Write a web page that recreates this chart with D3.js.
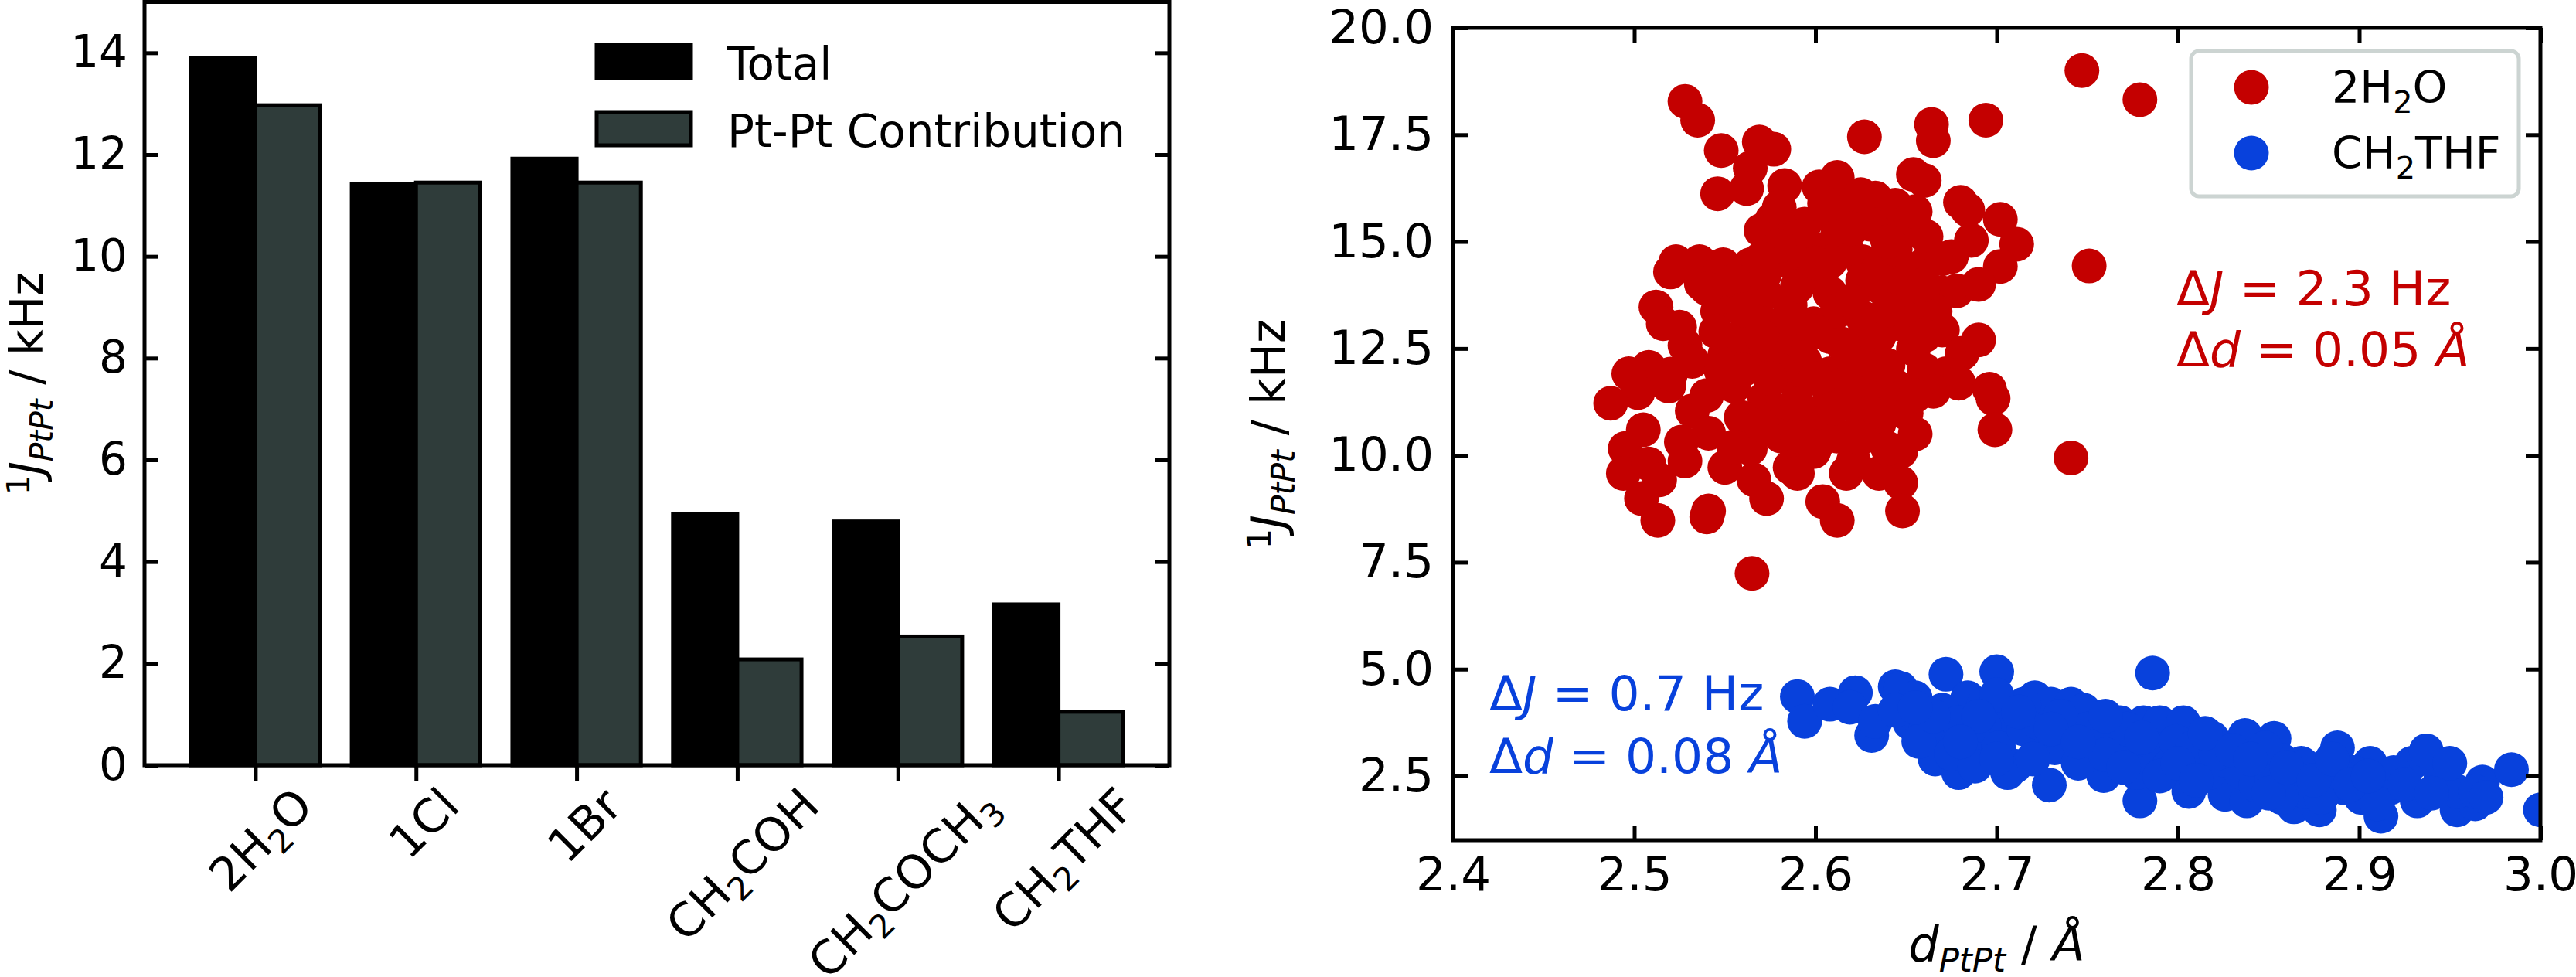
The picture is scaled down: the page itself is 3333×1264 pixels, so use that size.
<!DOCTYPE html>
<html>
<head>
<meta charset="utf-8">
<script src="https://cdn.jsdelivr.net/npm/d3@7"></script>
<style>
  body { margin: 0; background: #fff; }
  text { font-family: "DejaVu Sans", sans-serif; fill: #000; }
</style>
</head>
<body>
<svg id="fig" width="3333" height="1264"></svg>
<script>
// ---- left panel data (kHz) ----
var categories = ['2H2O', '1Cl', '1Br', 'CH2COH', 'CH2COCH3', 'CH2THF'];
var totalVals = [13.9, 11.43, 11.92, 4.94, 4.79, 3.16];
var ptptVals = [12.97, 11.45, 11.45, 2.08, 2.53, 1.05];
var leftTicks = [0, 2, 4, 6, 8, 10, 12, 14];

// ---- right panel data (d / A, J / kHz) ----
var waterD = [2.747,2.779,2.528,2.535,2.548,2.569,2.577,2.627,2.664,2.665,2.694,2.564,2.583,2.546,2.562,2.602,2.612,2.654,2.660,2.633,
  2.644,2.680,2.684,2.702,2.711,2.702,2.751,2.686,2.675,2.576,2.570,2.594,2.608,2.617,2.649,2.639,2.660,2.523,2.520,2.536,
  2.537,2.549,2.564,2.586,2.599,2.512,2.516,2.546,2.555,2.572,2.586,2.608,2.635,2.648,2.670,2.678,2.661,2.670,2.681,2.654,
  2.646,2.528,2.532,2.550,2.566,2.590,2.608,2.626,2.635,2.608,2.590,2.572,2.548,2.519,2.508,2.497,2.502,2.487,2.672,2.679,
  2.696,2.698,2.699,2.650,2.635,2.626,2.599,2.581,2.559,2.532,2.541,2.526,2.528,2.550,2.564,2.581,2.586,2.599,2.590,2.566,
  2.573,2.495,2.494,2.508,2.514,2.504,2.513,2.541,2.540,2.604,2.612,2.617,2.621,2.635,2.647,2.647,2.648,2.565,2.741,2.626,
  2.617,2.599,2.635,2.612,2.599,2.626,2.572,2.559,2.635,2.617,2.644,2.555,2.594,2.577,2.626,2.590,2.652,2.661,2.630,2.612,
  2.590,2.644,2.572,2.555,2.635,2.608,2.590,2.612,2.640,2.666,2.621,2.590,2.608,
  2.580,2.600,2.620,2.640,2.660,2.650,2.630,2.615,2.600,2.585,2.570,2.560,2.545,2.580,2.600,2.620,2.640,2.660,2.665,2.655,
  2.630,2.610,2.590,2.570,2.600,2.625,2.655,2.660,2.690,2.690,2.670,2.655,2.625,2.605,2.580,2.570,2.540,2.525,2.540,2.520,
  2.505,2.555,2.620,2.640,2.575,2.560];
var waterJ = [19.0,18.32,18.28,17.84,17.13,17.33,17.16,17.45,17.74,17.36,17.84,16.72,16.31,16.12,16.24,16.28,16.50,16.57,16.43,16.02,
  15.85,15.92,15.74,15.52,14.94,14.42,14.43,15.03,14.65,15.51,15.26,15.41,15.63,15.85,15.41,15.12,14.46,14.53,14.29,14.53,
  14.02,14.46,14.46,14.53,14.24,13.47,13.08,13.37,13.66,13.80,13.51,13.80,13.95,13.66,13.80,13.85,13.37,12.93,12.39,12.49,
  13.08,12.57,12.20,12.35,12.20,12.49,12.78,12.49,11.91,11.91,11.62,11.33,11.98,11.62,12.06,11.91,11.47,11.22,11.91,11.69,
  11.55,11.33,10.60,10.99,10.74,10.89,10.89,11.04,10.89,11.04,10.52,10.31,9.87,9.72,10.16,10.45,9.72,10.09,9.58,9.43,
  8.99,10.16,9.58,9.80,9.43,8.99,8.48,8.70,8.56,8.92,8.48,9.58,9.87,9.58,9.36,10.09,8.70,7.24,9.94,14.53,
  14.82,14.82,14.39,13.37,13.08,13.22,13.08,12.78,12.78,11.76,11.62,11.62,12.20,12.49,14.09,13.95,14.24,15.12,15.41,15.12,
  15.12,14.82,14.24,14.09,11.33,11.33,10.45,10.45,10.16,13.37,12.20,13.08,14.53,
  14.90,14.50,15.30,15.00,14.00,13.20,12.90,12.60,12.90,13.20,12.80,13.40,12.90,12.00,11.80,11.50,12.10,12.00,11.50,11.40,
  11.00,11.10,11.20,10.70,10.20,10.40,10.50,12.80,12.70,14.00,14.60,15.70,16.10,15.90,15.80,14.60,13.90,13.00,11.40,11.90,
  10.60,10.20,13.60,13.40,11.80,12.00];

var thfD = [2.590,2.594,2.608,2.622,2.619,2.631,2.633,2.644,2.647,2.655,2.652,2.672,2.700,2.786,2.666,2.679,2.675,2.684,2.693,2.688,
  2.697,2.706,2.710,2.721,2.730,2.741,2.748,2.729,2.723,2.736,2.750,2.759,2.768,2.772,2.779,2.781,2.790,2.795,2.803,2.806,
  2.812,2.819,2.826,2.837,2.838,2.846,2.853,2.857,2.864,2.868,2.878,2.881,2.888,2.892,2.906,2.912,2.917,2.929,2.932,2.937,
  2.945,2.954,2.964,2.968,2.984,3.000,2.661,2.670,2.679,2.693,2.701,2.706,2.715,2.723,2.732,2.741,2.754,2.764,2.772,2.786,
  2.795,2.799,2.808,2.817,2.826,2.835,2.843,2.852,2.861,2.870,2.879,2.897,2.901,2.919,2.954,2.964,2.675,2.688,2.657,2.644,
  2.715,2.750,2.777,2.821,2.848,2.857,2.910,2.870,2.888,
  2.700,2.712,2.690,2.680,2.700,2.720,2.735,2.745,2.760,2.770,2.780,2.790,2.800,2.810,2.815,2.830,2.840,2.850,2.860,2.875,
  2.885,2.895,2.905,2.925,2.940,2.950,2.970,2.665,2.655,2.730,2.760,2.745];
var thfJ = [4.36,3.78,4.18,4.45,4.11,3.45,3.78,4.59,4.55,4.33,3.75,4.88,4.94,4.91,2.90,2.58,3.45,4.33,4.18,3.16,
  3.45,3.89,2.73,4.33,4.18,4.18,4.04,2.29,3.16,3.45,3.02,2.51,3.75,3.16,1.92,3.75,3.75,3.02,3.75,2.14,
  2.87,3.38,2.07,3.45,1.92,2.73,3.38,2.87,1.78,2.80,1.71,2.43,3.16,2.22,2.80,1.56,2.22,2.80,1.92,3.09,
  2.43,1.71,1.85,2.36,2.65,1.71,3.60,4.04,3.75,3.68,3.16,2.58,3.60,3.75,3.16,3.60,3.45,3.31,3.60,3.16,
  2.73,3.31,3.16,2.58,2.87,2.58,2.29,2.43,2.43,2.14,2.00,2.58,2.00,2.58,2.14,2.14,3.02,2.73,3.31,4.04,
  4.18,3.60,2.58,3.02,3.16,2.00,1.85,2.73,2.58,
  4.40,4.00,3.90,3.30,2.90,2.90,3.90,2.80,3.00,2.70,3.40,2.50,2.80,2.40,3.50,3.10,2.90,2.10,2.70,2.40,
  2.90,2.30,2.50,2.30,2.10,2.80,2.00,3.90,4.10,3.60,3.90,3.30];
var rightXTicks = [2.4, 2.5, 2.6, 2.7, 2.8, 2.9, 3.0];
var rightYTicks = [2.5, 5, 7.5, 10, 12.5, 15, 17.5, 20];

var GRAY = '#2f3c3a', RED = '#c40000', BLUE = '#0841dc';

// append text pieces: r = roman, i = italic, sub/subi = subscript, sup = superscript
function rich(t, parts, fs) {
    var cur = 0;
    parts.forEach(function(p) {
        var k = p[1];
        var off = (k == 'sub' || k == 'subi') ? 0.22 * fs : (k == 'sup' ? -0.3 * fs : 0);
        var ts = t.append('tspan').text(p[0]).attr('dy', off - cur);
        cur = off;
        if (k != 'r' && k != 'i') ts.attr('font-size', 0.7 * fs);
        if (k == 'i' || k == 'subi') ts.attr('font-style', 'italic');
    });
    return t;
}

// digits right after a letter become subscripts
function formula(s) {
    var parts = [];
    for (var i = 0; i < s.length; i++) {
        var kind = (/\d/.test(s[i]) && i > 0 && /[A-Za-z]/.test(s[i - 1])) ? 'sub' : 'r';
        if (parts.length && parts[parts.length - 1][1] == kind) parts[parts.length - 1][0] += s[i];
        else parts.push([s[i], kind]);
    }
    return parts;
}

var svg = d3.select('#fig');
svg.append('rect').attr('width', 3333).attr('height', 1264).attr('fill', '#fff');

/* ---------------- left panel: bars ---------------- */
var L = {x0: 187, x1: 1513, y0: 2.5, y1: 990};
var xL = d3.scaleLinear().domain([-0.69, 5.69]).range([L.x0, L.x1]);
var yL = d3.scaleLinear().domain([0, 15]).range([L.y1, L.y0]);
var gL = svg.append('g');

gL.selectAll('rect.tot').data(totalVals).enter().append('rect')
    .attr('x', function(d, i) { return xL(i - 0.4); })
    .attr('width', xL(0.4) - xL(0))
    .attr('y', function(d) { return yL(d); })
    .attr('height', function(d) { return yL(0) - yL(d); })
    .attr('fill', '#000').attr('stroke', '#000').attr('stroke-width', 5);
gL.selectAll('rect.pt').data(ptptVals).enter().append('rect')
    .attr('x', function(d, i) { return xL(i); })
    .attr('width', xL(0.4) - xL(0))
    .attr('y', function(d) { return yL(d); })
    .attr('height', function(d) { return yL(0) - yL(d); })
    .attr('fill', GRAY).attr('stroke', '#000').attr('stroke-width', 5);

var axL = gL.append('g').attr('transform', 'translate(' + L.x0 + ',0)')
    .call(d3.axisLeft(yL).tickValues(leftTicks).tickSizeInner(-18).tickSizeOuter(0).tickPadding(22));
var axL2 = gL.append('g').attr('transform', 'translate(' + L.x1 + ',0)')
    .call(d3.axisRight(yL).tickValues(leftTicks).tickSizeInner(-18).tickSizeOuter(0).tickFormat(''));
var axLb = gL.append('g').attr('transform', 'translate(0,' + L.y1 + ')')
    .call(d3.axisBottom(xL).tickValues(d3.range(categories.length)).tickSizeInner(20).tickSizeOuter(0).tickFormat(''));
[axL, axL2, axLb].forEach(function(a) {
    a.select('.domain').remove();
    a.selectAll('line').attr('stroke', '#000').attr('stroke-width', 5);
    a.selectAll('text').attr('font-size', 58).attr('font-family', 'DejaVu Sans').attr('fill', '#000');
});
gL.append('rect').attr('x', L.x0).attr('y', L.y0).attr('width', L.x1 - L.x0).attr('height', L.y1 - L.y0)
    .attr('fill', 'none').attr('stroke', '#000').attr('stroke-width', 5);

// rotated category labels
categories.forEach(function(c, i) {
    var t = gL.append('text').attr('font-size', 60).attr('text-anchor', 'middle');
    rich(t, formula(c), 60);
    var bb = t.node().getBBox();
    var s = (bb.width + bb.height) / Math.SQRT2;
    var cx = xL(i) + 10, cy = 1006 + s / 2;
    t.attr('transform', 'translate(' + cx + ',' + cy + ') rotate(-45) translate(' +
        (-(bb.x + bb.width / 2)) + ',' + (-(bb.y + bb.height / 2)) + ')');
});

rich(gL.append('text').attr('font-size', 58).attr('text-anchor', 'middle')
    .attr('transform', 'translate(55,' + (L.y0 + L.y1) / 2 + ') rotate(-90)'),
    [['1', 'sup'], ['J', 'i'], ['PtPt', 'subi'], [' / kHz', 'r']], 58);

// legend
var legL = [['Total', '#000'], ['Pt-Pt Contribution', GRAY]];
legL.forEach(function(l, i) {
    gL.append('rect').attr('x', 772).attr('y', 58 + i * 87).attr('width', 122).attr('height', 43)
        .attr('fill', l[1]).attr('stroke', '#000').attr('stroke-width', 5);
    gL.append('text').attr('x', 941).attr('y', 103 + i * 87).attr('font-size', 58).text(l[0]);
});

/* ---------------- right panel: scatter ---------------- */
var R = {x0: 1880, x1: 3287, y0: 36, y1: 1087};
var xR = d3.scaleLinear().domain([2.4, 3.0]).range([R.x0, R.x1]);
var yR = d3.scaleLinear().domain([1, 20]).range([R.y1, R.y0]);
var gR = svg.append('g');

gR.append('clipPath').attr('id', 'clipR').append('rect')
    .attr('x', R.x0).attr('y', R.y0).attr('width', R.x1 - R.x0).attr('height', R.y1 - R.y0);
var pts = gR.append('g').attr('clip-path', 'url(#clipR)');
pts.selectAll('circle.w').data(waterD).enter().append('circle')
    .attr('cx', function(d) { return xR(d); })
    .attr('cy', function(d, i) { return yR(waterJ[i]); })
    .attr('r', 22.5).attr('fill', RED);
pts.selectAll('circle.t').data(thfD).enter().append('circle')
    .attr('cx', function(d) { return xR(d); })
    .attr('cy', function(d, i) { return yR(thfJ[i]); })
    .attr('r', 22.5).attr('fill', BLUE);

var fmt = d3.format('.1f');
var axes = [
    gR.append('g').attr('transform', 'translate(' + R.x0 + ',0)')
        .call(d3.axisLeft(yR).tickValues(rightYTicks).tickSizeInner(-19).tickSizeOuter(0).tickPadding(25).tickFormat(fmt)),
    gR.append('g').attr('transform', 'translate(' + R.x1 + ',0)')
        .call(d3.axisRight(yR).tickValues(rightYTicks).tickSizeInner(-19).tickSizeOuter(0).tickFormat('')),
    gR.append('g').attr('transform', 'translate(0,' + R.y1 + ')')
        .call(d3.axisBottom(xR).tickValues(rightXTicks).tickSizeInner(-19).tickSizeOuter(0).tickPadding(22).tickFormat(fmt)),
    gR.append('g').attr('transform', 'translate(0,' + R.y0 + ')')
        .call(d3.axisTop(xR).tickValues(rightXTicks).tickSizeInner(-19).tickSizeOuter(0).tickFormat(''))
];
axes.forEach(function(a) {
    a.select('.domain').remove();
    a.selectAll('line').attr('stroke', '#000').attr('stroke-width', 5);
    a.selectAll('text').attr('font-size', 61).attr('font-family', 'DejaVu Sans').attr('fill', '#000');
});
gR.append('rect').attr('x', R.x0).attr('y', R.y0).attr('width', R.x1 - R.x0).attr('height', R.y1 - R.y0)
    .attr('fill', 'none').attr('stroke', '#000').attr('stroke-width', 5);

rich(gR.append('text').attr('font-size', 60).attr('text-anchor', 'middle')
    .attr('transform', 'translate(1662,' + (R.y0 + R.y1) / 2 + ') rotate(-90)'),
    [['1', 'sup'], ['J', 'i'], ['PtPt', 'subi'], [' / kHz', 'r']], 60);
rich(gR.append('text').attr('font-size', 62).attr('text-anchor', 'middle')
    .attr('x', (R.x0 + R.x1) / 2).attr('y', 1243),
    [['d', 'i'], ['PtPt', 'subi'], [' / ', 'r'], ['Å', 'i']], 62);

// annotations
var notes = [
    [2816, 395, RED, [['Δ', 'r'], ['J', 'i'], [' = 2.3 Hz', 'r']]],
    [2816, 474, RED, [['Δ', 'r'], ['d', 'i'], [' = 0.05 ', 'r'], ['Å', 'i']]],
    [1927, 919, BLUE, [['Δ', 'r'], ['J', 'i'], [' = 0.7 Hz', 'r']]],
    [1927, 1000, BLUE, [['Δ', 'r'], ['d', 'i'], [' = 0.08 ', 'r'], ['Å', 'i']]]
];
notes.forEach(function(n) {
    rich(gR.append('text').attr('x', n[0]).attr('y', n[1]).attr('font-size', 63).style('fill', n[2]), n[3], 63);
});

// legend
gR.append('rect').attr('x', 2835).attr('y', 66).attr('width', 424).attr('height', 188).attr('rx', 10)
    .attr('fill', '#fff').attr('fill-opacity', 0.8).attr('stroke', '#ccd4d2').attr('stroke-width', 5);
var legR = [['2H2O', RED], ['CH2THF', BLUE]];
legR.forEach(function(l, i) {
    gR.append('circle').attr('cx', 2913).attr('cy', 113 + i * 85).attr('r', 22.5).attr('fill', l[1]);
    rich(gR.append('text').attr('x', 3017).attr('y', 133 + i * 85).attr('font-size', 57), formula(l[0]), 57);
});
</script>
</body>
</html>
